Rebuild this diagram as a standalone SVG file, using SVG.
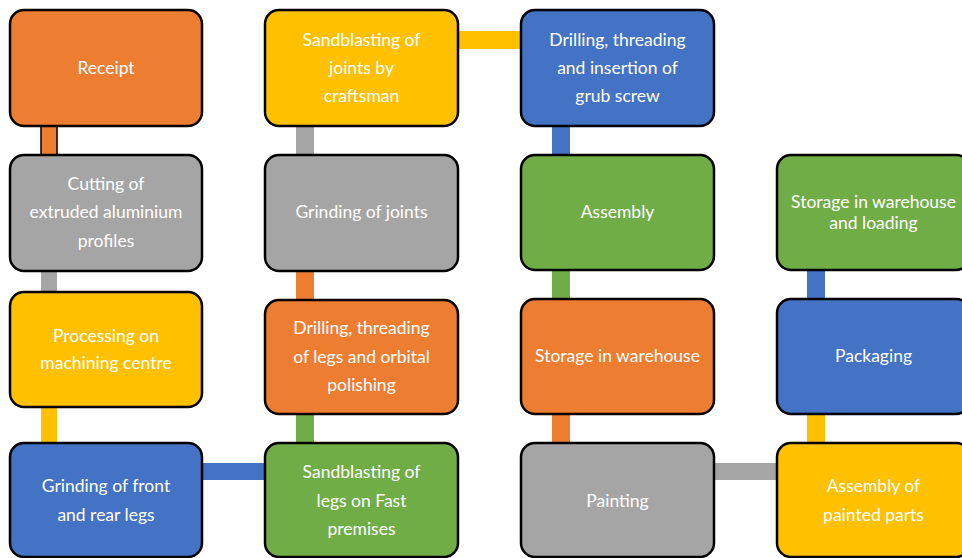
<svg xmlns="http://www.w3.org/2000/svg" width="962" height="558" viewBox="0 0 962 558">
<style>
.box{stroke:#000;stroke-width:2.5}
.o{fill:#ED7D31}.g{fill:#A5A5A5}.y{fill:#FFC000}.b{fill:#4472C4}.gr{fill:#70AD47}
text{font-family:Lato,"Open Sans","Liberation Sans",sans-serif;font-size:17.5px;fill:#fff;text-anchor:middle}
</style>
<rect width="962" height="558" fill="#fff"/>
<g id="connectors">
<rect class="o" x="41" y="124" width="16" height="33" stroke="#000" stroke-width="1.5"/>
<rect class="g" x="41" y="269" width="16" height="25"/>
<rect class="y" x="41" y="405" width="16" height="40"/>
<rect class="b" x="200" y="463" width="67" height="17"/>
<rect class="gr" x="296" y="412" width="18" height="33"/>
<rect class="o" x="296" y="269" width="18" height="33"/>
<rect class="g" x="296" y="124" width="18" height="33"/>
<rect class="y" x="456" y="31" width="67" height="18"/>
<rect class="b" x="552" y="124" width="18" height="33"/>
<rect class="gr" x="552" y="268" width="18" height="33"/>
<rect class="o" x="552" y="412" width="18" height="33"/>
<rect class="g" x="712" y="463" width="67" height="17"/>
<rect class="y" x="807" y="412" width="18" height="33"/>
<rect class="b" x="807" y="268" width="18" height="33"/>
</g>
<g id="n1"><rect class="box o" x="10" y="10" width="192" height="116" rx="14"/><text x="106" y="74">Receipt</text></g>
<g id="n2"><rect class="box g" x="10" y="155" width="192" height="116" rx="14"/><text x="106" y="190">Cutting of</text><text x="106" y="218">extruded aluminium</text><text x="106" y="247">profiles</text></g>
<g id="n3"><rect class="box y" x="10" y="292" width="192" height="115" rx="14"/><text x="106" y="342">Processing on</text><text x="106" y="369">machining centre</text></g>
<g id="n4"><rect class="box b" x="10" y="443" width="192" height="114" rx="14"/><text x="106" y="492">Grinding of front</text><text x="106" y="521">and rear legs</text></g>
<g id="n5"><rect class="box gr" x="265" y="443" width="193" height="114" rx="14"/><text x="361.5" y="478">Sandblasting of</text><text x="361.5" y="507">legs on Fast</text><text x="361.5" y="535">premises</text></g>
<g id="n6"><rect class="box o" x="265" y="300" width="193" height="114" rx="14"/><text x="361.5" y="334">Drilling, threading</text><text x="361.5" y="363">of legs and orbital</text><text x="361.5" y="391">polishing</text></g>
<g id="n7"><rect class="box g" x="265" y="155" width="193" height="116" rx="14"/><text x="361.5" y="218">Grinding of joints</text></g>
<g id="n8"><rect class="box y" x="265" y="10" width="193" height="116" rx="14"/><text x="361.5" y="46">Sandblasting of</text><text x="361.5" y="74">joints by</text><text x="361.5" y="102">craftsman</text></g>
<g id="n9"><rect class="box b" x="521" y="10" width="193" height="116" rx="14"/><text x="617.5" y="46">Drilling, threading</text><text x="617.5" y="74">and insertion of</text><text x="617.5" y="102">grub screw</text></g>
<g id="n10"><rect class="box gr" x="521" y="155" width="193" height="115" rx="14"/><text x="617.5" y="218">Assembly</text></g>
<g id="n11"><rect class="box o" x="521" y="299" width="193" height="115" rx="14"/><text x="617.5" y="362">Storage in warehouse</text></g>
<g id="n12"><rect class="box g" x="521" y="443" width="193" height="114" rx="14"/><text x="617.5" y="507">Painting</text></g>
<g id="n13"><rect class="box y" x="777" y="443" width="193" height="114" rx="14"/><text x="873.5" y="492">Assembly of</text><text x="873.5" y="521">painted parts</text></g>
<g id="n14"><rect class="box b" x="777" y="299" width="193" height="115" rx="14"/><text x="873.5" y="362">Packaging</text></g>
<g id="n15"><rect class="box gr" x="777" y="155" width="193" height="115" rx="14"/><text x="873.5" y="208">Storage in warehouse</text><text x="873.5" y="229">and loading</text></g>
</svg>
